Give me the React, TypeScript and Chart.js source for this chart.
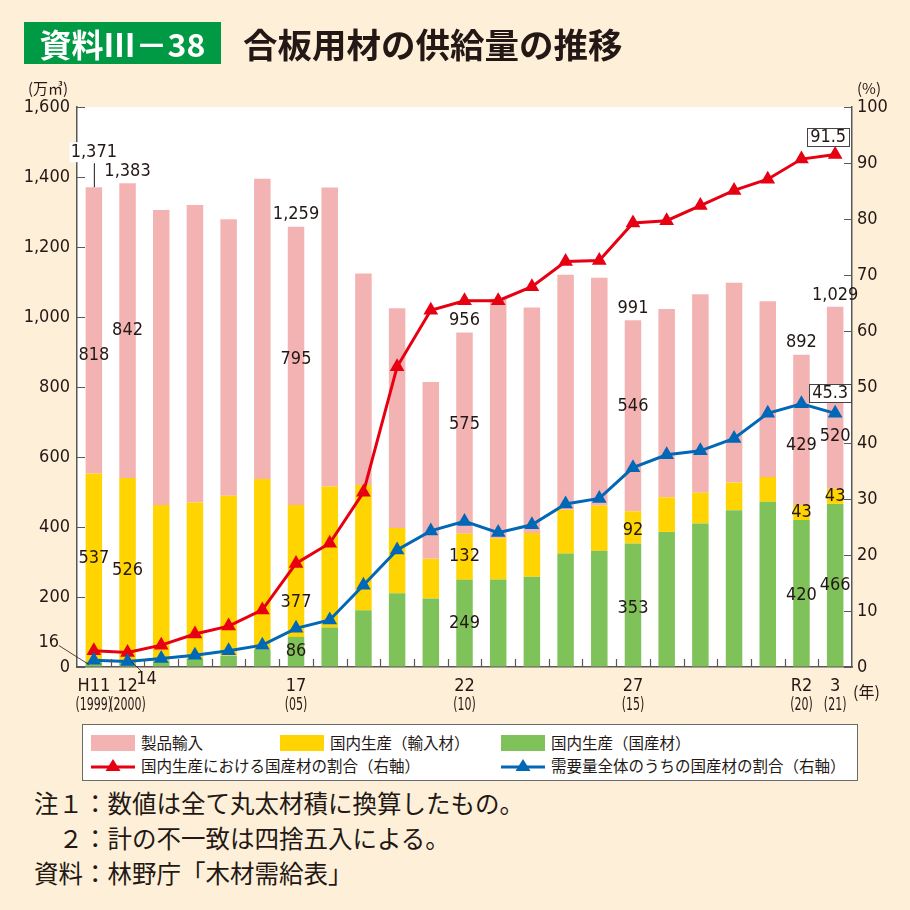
import React, { useEffect, useRef } from 'react';
import { Chart, registerables } from 'chart.js';

Chart.register(...registerables);

// ---- data ----
const years = ['1999','2000','2001','2002','2003','2004','2005','2006','2007','2008','2009','2010','2011','2012','2013','2014','2015','2016','2017','2018','2019','2020','2021'];
const xLabelTop = ['H11','12','','','','','17','','','','','22','','','','','27','','','','','R2','3'];
const xLabelBottom = ['(1999)','(2000)','','','','','(05)','','','','','(10)','','','','','(15)','','','','','(20)','(21)'];
// 国内生産（国産材）
const domesticTimber = [16,14,17,24,32,50,86,113,162,211,196,249,250,258,324,332,353,386,410,448,472,420,466];
// 国内生産（輸入材）
const domesticImported = [537,526,446,446,457,487,377,403,358,186,113,132,118,125,125,129,92,99,88,79,71,43,43];
// 製品輸入
const productImports = [818,842,843,850,790,858,795,854,604,628,505,575,684,644,672,651,546,538,567,571,502,429,520];
// 合計
const totalSupply = [1371,1383,1306,1320,1279,1395,1259,1370,1124,1025,814,956,1052,1027,1121,1112,991,1023,1065,1098,1045,892,1029];
// 国内生産における国産材の割合（％）
const shareInDomestic = [2.9,2.6,3.9,5.9,7.3,10.2,18.5,22.1,31.2,53.6,63.7,65.4,65.4,67.9,72.4,72.6,79.3,79.7,82.4,85.1,87.1,90.7,91.5];
// 需要量全体のうちの国産材の割合（％）
const shareInTotal = [1.2,1.0,1.5,2.1,2.9,3.9,6.9,8.4,14.6,20.9,24.3,26.0,24.0,25.4,29.1,30.1,35.6,37.9,38.6,40.8,45.3,47.0,45.3];
const leftTicks = [0,200,400,600,800,1000,1200,1400,1600];
const rightTicks = [0,10,20,30,40,50,60,70,80,90,100];

// which values are annotated
const segmentLabels = [
  { ds: 2, i: 0, dy: 25 }, { ds: 2, i: 1, dy: 0 }, { ds: 2, i: 6, dy: -6 }, { ds: 2, i: 11, dy: -9 },
  { ds: 2, i: 16, dy: -9 }, { ds: 2, i: 21, dy: 15 }, { ds: 2, i: 22, dy: 38 },
  { ds: 1, i: 0, dy: -9 }, { ds: 1, i: 1, dy: 0 }, { ds: 1, i: 6, dy: 31 }, { ds: 1, i: 11, dy: 0 },
  { ds: 1, i: 16, dy: 3 }, { ds: 1, i: 21, dy: 0 }, { ds: 1, i: 22, dy: 0 },
  { ds: 0, i: 6, dy: 0 }, { ds: 0, i: 11, dy: 0 }, { ds: 0, i: 16, dy: 3 }, { ds: 0, i: 21, dy: 2 }, { ds: 0, i: 22, dy: 0 },
];
const totalLabelIdx = [0, 1, 6, 11, 16, 21, 22];

const PINK = '#F4B3B3';
const YELLOW = '#FFD400';
const GREEN = '#80C25A';
const RED = '#E60012';
const BLUE = '#0068B7';
const CREAM = '#FEF0D8';
const INK = '#231815';
const AXIS = '#595757';
const NUM_FONT = '"Liberation Sans Narrow", "DejaVu Sans Condensed", "Roboto Condensed", Roboto, sans-serif';
const JP_FONT = '"Noto Sans CJK JP", "Noto Sans", sans-serif';

const fmt = (v: number) => v.toLocaleString('en-US');

const decoPlugin = {
  id: 'deco',
  beforeDraw(chart: any) {
    const { ctx, chartArea: a } = chart;
    ctx.save();
    ctx.fillStyle = CREAM;
    ctx.fillRect(0, 0, chart.width, chart.height);
    ctx.fillStyle = '#FFFFFF';
    ctx.fillRect(a.left, a.top, a.right - a.left, a.bottom - a.top);
    ctx.restore();
  },
  afterDraw(chart: any) {
    const { ctx, chartArea: a, scales } = chart;
    const xs = scales.x, yl = scales.y, yr = scales.y1;
    ctx.save();
    ctx.strokeStyle = AXIS;
    ctx.lineWidth = 1.2;
    ctx.beginPath();
    leftTicks.forEach(v => {
      const y = Math.round(yl.getPixelForValue(v)) + 0.5;
      ctx.moveTo(a.left, y); ctx.lineTo(a.left + 8, y);
    });
    rightTicks.forEach(v => {
      const y = Math.round(yr.getPixelForValue(v)) + 0.5;
      ctx.moveTo(a.right - 8, y); ctx.lineTo(a.right, y);
    });
    for (let i = 1; i < years.length; i++) {
      const x = Math.round((xs.getPixelForValue(i - 1) + xs.getPixelForValue(i)) / 2) + 0.5;
      ctx.moveTo(x, a.bottom); ctx.lineTo(x, a.bottom - 8);
    }
    ctx.stroke();

    // x labels
    ctx.fillStyle = INK;
    ctx.textAlign = 'center';
    ctx.textBaseline = 'middle';
    years.forEach((_, i) => {
      const x = xs.getPixelForValue(i);
      if (xLabelTop[i]) {
        ctx.font = `18px ${NUM_FONT}`;
        ctx.fillText(xLabelTop[i], x, a.bottom + 19);
      }
      if (xLabelBottom[i]) {
        ctx.save();
        ctx.translate(x, a.bottom + 39);
        ctx.scale(0.72, 1);
        ctx.font = `17px ${NUM_FONT}`;
        ctx.fillText(xLabelBottom[i], 0, 0);
        ctx.restore();
      }
    });

    // value labels
    ctx.font = `18px ${NUM_FONT}`;
    segmentLabels.forEach(l => {
      const el = chart.getDatasetMeta(l.ds).data[l.i];
      const p = el.getProps(['x', 'y', 'base'], true);
      const v = chart.data.datasets[l.ds].data[l.i];
      ctx.fillText(fmt(v), p.x, (p.y + p.base) / 2 + l.dy);
    });
    const topMeta = chart.getDatasetMeta(2);
    totalLabelIdx.forEach(i => {
      const p = topMeta.data[i].getProps(['x', 'y'], true);
      const txt = fmt(totalSupply[i]);
      if (i === 0) {
        const ly = p.y - 35;
        ctx.fillStyle = '#FFFFFF';
        const w = ctx.measureText(txt).width;
        ctx.fillRect(p.x - w / 2 - 1, ly - 10, w + 2, 20);
        ctx.fillStyle = INK;
        ctx.fillText(txt, p.x, ly);
        ctx.beginPath();
        ctx.strokeStyle = INK;
        ctx.lineWidth = 1;
        ctx.moveTo(p.x + 0.5, ly + 11); ctx.lineTo(p.x + 0.5, p.y);
        ctx.stroke();
      } else {
        ctx.fillText(txt, p.x, p.y - 12);
      }
    });

    // small green values with leader lines
    const g0 = chart.getDatasetMeta(0).data[0].getProps(['x', 'base'], true);
    const g1 = chart.getDatasetMeta(0).data[1].getProps(['x', 'base'], true);
    ctx.strokeStyle = INK;
    ctx.lineWidth = 0.8;
    ctx.beginPath();
    ctx.moveTo(g0.x - 35, g0.base - 21); ctx.lineTo(g0.x - 5, g0.base - 2);
    ctx.moveTo(g1.x + 4, g1.base - 5); ctx.lineTo(g1.x + 14, g1.base + 5);
    ctx.stroke();
    ctx.fillText(fmt(domesticTimber[0]), g0.x - 45, g0.base - 24);
    ctx.fillText(fmt(domesticTimber[1]), g1.x + 19, g1.base + 13);

    // boxed last-point labels
    const boxes = [
      { ds: 3, dx: -7, dy: -18 },
      { ds: 4, dx: -5, dy: -20 },
    ];
    boxes.forEach(b => {
      const last = years.length - 1;
      const p = chart.getDatasetMeta(b.ds).data[last].getProps(['x', 'y'], true);
      const txt = String(chart.data.datasets[b.ds].data[last]);
      const w = ctx.measureText(txt).width + 6;
      const cx = p.x + b.dx, cy = p.y + b.dy;
      ctx.fillStyle = '#FFFFFF';
      ctx.fillRect(cx - w / 2, cy - 9, w, 18);
      ctx.strokeStyle = '#444';
      ctx.lineWidth = 1;
      ctx.strokeRect(Math.round(cx - w / 2) + 0.5, Math.round(cy - 9) + 0.5, Math.round(w), 18);
      ctx.fillStyle = INK;
      ctx.fillText(txt, cx, cy + 0.5);
    });
    ctx.restore();
  },
};

function ChartBox() {
  const ref = useRef<HTMLCanvasElement | null>(null);
  useEffect(() => {
    if (!ref.current) return;
    const chart = new Chart(ref.current, {
      type: 'bar',
      data: {
        labels: years,
        datasets: [
          { type: 'bar', label: '国内生産（国産材）', data: domesticTimber, backgroundColor: GREEN, yAxisID: 'y', order: 2, barPercentage: 0.49, categoryPercentage: 1 },
          { type: 'bar', label: '国内生産（輸入材）', data: domesticImported, backgroundColor: YELLOW, yAxisID: 'y', order: 2, barPercentage: 0.49, categoryPercentage: 1 },
          { type: 'bar', label: '製品輸入', data: productImports, backgroundColor: PINK, yAxisID: 'y', order: 2, barPercentage: 0.49, categoryPercentage: 1 },
          { type: 'line', label: '国内生産における国産材の割合（右軸）', data: shareInDomestic, yAxisID: 'y1', borderColor: RED, backgroundColor: RED, borderWidth: 3, pointStyle: 'triangle', pointRadius: 8.5, pointBackgroundColor: RED, pointBorderColor: RED, pointBorderWidth: 0, order: 1, tension: 0 },
          { type: 'line', label: '需要量全体のうちの国産材の割合（右軸）', data: shareInTotal, yAxisID: 'y1', borderColor: BLUE, backgroundColor: BLUE, borderWidth: 3, pointStyle: 'triangle', pointRadius: 8.5, pointBackgroundColor: BLUE, pointBorderColor: BLUE, pointBorderWidth: 0, order: 0, tension: 0 },
        ] as any,
      },
      options: {
        animation: false,
        responsive: false,
        devicePixelRatio: 1,
        layout: { padding: { top: 107, left: 0, right: 0, bottom: 0 } },
        plugins: { legend: { display: false }, tooltip: { enabled: false }, title: { display: false } },
        scales: {
          x: {
            stacked: true,
            grid: { display: false },
            ticks: { display: false },
            border: { display: true, color: AXIS, width: 1.5 },
            afterFit: (s: any) => { s.height = 53; },
          },
          y: {
            stacked: true,
            position: 'left',
            min: 0, max: 1600,
            afterBuildTicks: (s: any) => { s.ticks = leftTicks.map(v => ({ value: v })); },
            ticks: { padding: 7, color: INK, font: { family: NUM_FONT, size: 18 }, callback: (v: any) => fmt(Number(v)) },
            grid: { drawOnChartArea: false, drawTicks: false },
            border: { display: true, color: AXIS, width: 1.5 },
            afterFit: (s: any) => { s.width = 77; },
          },
          y1: {
            position: 'right',
            min: 0, max: 100,
            afterBuildTicks: (s: any) => { s.ticks = rightTicks.map(v => ({ value: v })); },
            ticks: { padding: 5, color: INK, font: { family: NUM_FONT, size: 18 } },
            grid: { drawOnChartArea: false, drawTicks: false },
            border: { display: true, color: AXIS, width: 1.5 },
            afterFit: (s: any) => { s.width = 58; },
          },
        },
      } as any,
      plugins: [decoPlugin],
    });
    return () => chart.destroy();
  }, []);
  return <canvas ref={ref} width={910} height={720} style={{ position: 'absolute', left: 0, top: 0, width: 910, height: 720 }} />;
}

function LineSwatch({ color }: { color: string }) {
  return (
    <svg width={44} height={16} style={{ position: 'absolute', left: 0, top: -8 }}>
      <line x1={0} y1={9} x2={44} y2={9} stroke={color} strokeWidth={3} />
      <polygon points="22,1 29.5,13 14.5,13" fill={color} />
    </svg>
  );
}

export default function App() {
  const txt: React.CSSProperties = { position: 'absolute', fontFamily: JP_FONT, color: INK, whiteSpace: 'nowrap', lineHeight: 1 };
  const legendItem = (left: number, top: number, swatch: React.ReactNode, label: string) => (
    <div style={{ position: 'absolute', left, top }}>
      {swatch}
      <span style={{ ...txt, left: 50, top: -8, fontSize: 15.5 }}>{label}</span>
    </div>
  );
  const rect = (c: string) => <div style={{ position: 'absolute', left: 0, top: -8, width: 44, height: 16, background: c }} />;
  return (
    <div style={{ position: 'fixed', left: 0, top: 0, width: 910, height: 910, background: CREAM, overflow: 'hidden' }}>
      <ChartBox />
      <div style={{ position: 'absolute', left: 24, top: 22, width: 197, height: 42, background: '#009944', display: 'flex', alignItems: 'center', justifyContent: 'center' }}>
        <span style={{ fontFamily: JP_FONT, color: '#FFFFFF', fontSize: 32, fontWeight: 700, lineHeight: 1 }}>資料Ⅲ－38</span>
      </div>
      <div style={{ ...txt, left: 243, top: 26, fontSize: 34.5, fontWeight: 700 }}>合板用材の供給量の推移</div>
      <div style={{ ...txt, left: 28, top: 80, fontSize: 15 }}>(万㎥)</div>
      <div style={{ ...txt, left: 857, top: 80, fontSize: 15 }}>(%)</div>
      <div style={{ ...txt, left: 853, top: 683, fontSize: 16 }}>(年)</div>

      <div style={{ position: 'absolute', left: 82, top: 724, width: 774, height: 55, background: '#FFFFFF', border: '1px solid #6b6b6b' }}>
        {legendItem(8, 18, rect(PINK), '製品輸入')}
        {legendItem(197, 18, rect(YELLOW), '国内生産（輸入材）')}
        {legendItem(418, 18, rect(GREEN), '国内生産（国産材）')}
        {legendItem(8, 41, <LineSwatch color={RED} />, '国内生産における国産材の割合（右軸）')}
        {legendItem(418, 41, <LineSwatch color={BLUE} />, '需要量全体のうちの国産材の割合（右軸）')}
      </div>

      <div style={{ ...txt, left: 34, top: 791, fontSize: 24.5 }}>注１：数値は全て丸太材積に換算したもの。</div>
      <div style={{ ...txt, left: 34, top: 826, fontSize: 24.5 }}>　２：計の不一致は四捨五入による。</div>
      <div style={{ ...txt, left: 34, top: 861, fontSize: 24.5 }}>資料：林野庁「木材需給表」</div>
    </div>
  );
}
